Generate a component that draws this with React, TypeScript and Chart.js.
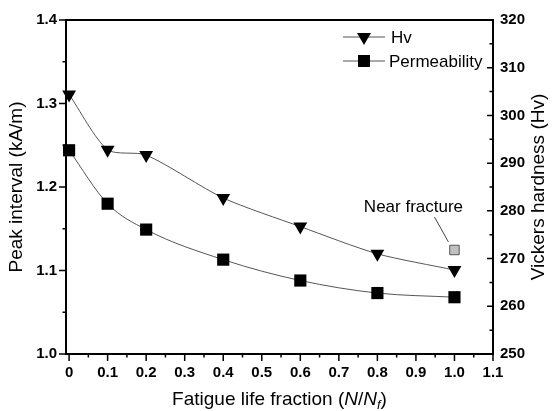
import React, { useEffect, useRef } from 'react';
import { Chart, registerables } from 'chart.js';

Chart.register(...registerables);

// ---- data ----
const fractions = [0, 0.1, 0.2, 0.4, 0.6, 0.8, 1.0];
const hardness = [304.4, 292.8, 291.7, 282.7, 276.7, 271.0, 267.6];
const peakInterval = [1.244, 1.18, 1.149, 1.113, 1.088, 1.073, 1.068];
const nearFractureX = [1.0];
const nearFractureHv = [271.8];

const xTicks = [0, 0.1, 0.2, 0.3, 0.4, 0.5, 0.6, 0.7, 0.8, 0.9, 1.0, 1.1];
const xTickLabels = ['0', '0.1', '0.2', '0.3', '0.4', '0.5', '0.6', '0.7', '0.8', '0.9', '1.0', '1.1'];
const leftTicks = [1.0, 1.1, 1.2, 1.3, 1.4];
const leftTickLabels = ['1.0', '1.1', '1.2', '1.3', '1.4'];
const rightTicks = [250, 260, 270, 280, 290, 300, 310, 320];
const rightTickLabels = ['250', '260', '270', '280', '290', '300', '310', '320'];

const seriesNames = ['Hv', 'Permeability'];
const annotationText = 'Near fracture';
const xTitleParts = ['Fatigue life fraction (', 'N', '/', 'N', 'f', ')'];
const leftTitle = 'Peak interval (kA/m)';
const rightTitle = 'Vickers hardness (Hv)';

const FONT = "'Liberation Sans', Arial, Helvetica, sans-serif";

function drawMarker(ctx: CanvasRenderingContext2D, kind: string, x: number, y: number) {
  ctx.save();
  ctx.fillStyle = '#000';
  ctx.beginPath();
  if (kind === 'tri') {
    const r = 8;
    ctx.moveTo(x, y + r);
    ctx.lineTo(x - r * Math.sin(Math.PI / 3), y - r / 2);
    ctx.lineTo(x + r * Math.sin(Math.PI / 3), y - r / 2);
    ctx.closePath();
  } else {
    ctx.rect(x - 6, y - 6, 12, 12);
  }
  ctx.fill();
  ctx.restore();
}

const decorPlugin = {
  id: 'decor',
  afterDraw(chart: any) {
    const ctx: CanvasRenderingContext2D = chart.ctx;
    const { left, right, top, bottom } = chart.chartArea;
    const xs = chart.scales.x;
    const yl = chart.scales.y;
    const yr = chart.scales.y1;
    ctx.save();
    ctx.strokeStyle = '#000';
    // ticks
    ctx.lineWidth = 1.5;
    ctx.beginPath();
    leftTicks.forEach((v, i) => {
      const p = yl.getPixelForValue(v);
      ctx.moveTo(left, p); ctx.lineTo(left - 7, p);
      if (i < leftTicks.length - 1) {
        const m = yl.getPixelForValue((v + leftTicks[i + 1]) / 2);
        ctx.moveTo(left, m); ctx.lineTo(left - 3.5, m);
      }
    });
    xTicks.forEach((v, i) => {
      const p = xs.getPixelForValue(v);
      ctx.moveTo(p, bottom); ctx.lineTo(p, bottom + 7);
      if (i < xTicks.length - 1) {
        const m = xs.getPixelForValue((v + xTicks[i + 1]) / 2);
        ctx.moveTo(m, bottom); ctx.lineTo(m, bottom + 3.5);
      }
    });
    rightTicks.forEach((v, i) => {
      const p = yr.getPixelForValue(v);
      ctx.moveTo(right, p); ctx.lineTo(right - 6, p);
      if (i < rightTicks.length - 1) {
        const m = yr.getPixelForValue((v + rightTicks[i + 1]) / 2);
        ctx.moveTo(right, m); ctx.lineTo(right - 3.5, m);
      }
    });
    ctx.stroke();
    // frame
    ctx.lineWidth = 2;
    ctx.strokeRect(left, top, right - left, bottom - top);

    // titles
    ctx.fillStyle = '#000';
    ctx.textAlign = 'center';
    ctx.textBaseline = 'middle';
    ctx.font = `19px ${FONT}`;
    const midY = (top + bottom) / 2;
    ctx.save();
    ctx.translate(17, midY);
    ctx.rotate(-Math.PI / 2);
    ctx.fillText(leftTitle, 0, 0);
    ctx.restore();
    ctx.save();
    ctx.translate(539, midY);
    ctx.rotate(-Math.PI / 2);
    ctx.fillText(rightTitle, 0, 0);
    ctx.restore();

    // x title with italic parts
    const styles = [
      { f: `19px ${FONT}`, dy: 0 },
      { f: `italic 19px ${FONT}`, dy: 0 },
      { f: `19px ${FONT}`, dy: 0 },
      { f: `italic 19px ${FONT}`, dy: 0 },
      { f: `italic 13px ${FONT}`, dy: 4 },
      { f: `19px ${FONT}`, dy: 0 },
    ];
    let total = 0;
    const widths = xTitleParts.map((t, i) => {
      ctx.font = styles[i].f;
      const w = ctx.measureText(t).width;
      total += w;
      return w;
    });
    let cx = (left + right) / 2 - total / 2;
    ctx.textAlign = 'left';
    ctx.textBaseline = 'alphabetic';
    const base = 405;
    xTitleParts.forEach((t, i) => {
      ctx.font = styles[i].f;
      ctx.fillText(t, cx, base + styles[i].dy);
      cx += widths[i];
    });

    // legend
    const rows = [
      { y: top + 17, kind: 'tri', name: seriesNames[0], tx: right - 102 },
      { y: top + 41, kind: 'sq', name: seriesNames[1], tx: right - 104 },
    ];
    ctx.font = `17px ${FONT}`;
    ctx.textBaseline = 'middle';
    rows.forEach((r) => {
      ctx.strokeStyle = '#555';
      ctx.lineWidth = 1;
      ctx.beginPath();
      ctx.moveTo(right - 150, r.y);
      ctx.lineTo(right - 108, r.y);
      ctx.stroke();
      drawMarker(ctx, r.kind, right - 129, r.y);
      ctx.fillStyle = '#000';
      ctx.fillText(r.name, r.tx, r.y + 1);
    });

    // annotation
    const meta = chart.getDatasetMeta(2);
    const pt = meta.data[0];
    if (pt) {
      const px = pt.x, py = pt.y;
      ctx.strokeStyle = '#444';
      ctx.lineWidth = 1;
      ctx.beginPath();
      ctx.moveTo(px - 20, py - 33);
      ctx.lineTo(px - 6, py - 8);
      ctx.stroke();
      ctx.textAlign = 'center';
      ctx.textBaseline = 'middle';
      ctx.font = `17px ${FONT}`;
      ctx.fillStyle = '#000';
      ctx.fillText(annotationText, px - 41, py - 43);
    }
    ctx.restore();
  },
};

export default function App() {
  const ref = useRef<HTMLCanvasElement | null>(null);
  useEffect(() => {
    if (!ref.current) return;
    const tickFont = { family: FONT, size: 15, weight: 'bold' as const };
    const chart = new Chart(ref.current, {
      type: 'line',
      data: {
        datasets: [
          {
            label: seriesNames[0],
            data: fractions.map((x, i) => ({ x, y: hardness[i] })),
            yAxisID: 'y1',
            borderColor: '#555',
            borderWidth: 1,
            backgroundColor: '#000',
            pointBackgroundColor: '#000',
            pointBorderColor: '#000',
            pointBorderWidth: 0,
            pointStyle: 'triangle',
            rotation: 180,
            pointRadius: 8,
            tension: 0.25,
            clip: false,
          } as any,
          {
            label: seriesNames[1],
            data: fractions.map((x, i) => ({ x, y: peakInterval[i] })),
            yAxisID: 'y',
            borderColor: '#555',
            borderWidth: 1,
            backgroundColor: '#000',
            pointBackgroundColor: '#000',
            pointBorderColor: '#000',
            pointBorderWidth: 0,
            pointStyle: 'rect',
            pointRadius: 8.6,
            cubicInterpolationMode: 'monotone',
            clip: false,
          } as any,
          {
            label: annotationText,
            data: nearFractureX.map((x, i) => ({ x, y: nearFractureHv[i] })),
            yAxisID: 'y1',
            showLine: false,
            pointBackgroundColor: '#c0c0c0',
            pointBorderColor: '#555',
            pointBorderWidth: 1,
            pointStyle: 'rect',
            pointRadius: 6.7,
            clip: false,
          } as any,
        ],
      },
      options: {
        animation: false,
        responsive: false,
        events: [],
        layout: { padding: { top: 20, left: 0, right: 0, bottom: 0 } },
        plugins: { legend: { display: false }, tooltip: { enabled: false } },
        scales: {
          x: {
            type: 'linear',
            min: -0.008,
            max: 1.1,
            grid: { display: false, drawTicks: false },
            border: { display: false },
            afterBuildTicks: (s: any) => { s.ticks = xTicks.map((v) => ({ value: v })); },
            afterFit: (s: any) => { s.height = 57; },
            ticks: {
              font: tickFont,
              color: '#000',
              padding: 10,
              maxRotation: 0,
              autoSkip: false,
              callback: (v: any) => { const i = xTicks.findIndex((t) => Math.abs(t - v) < 1e-6); return i >= 0 ? xTickLabels[i] : ''; },
            },
          },
          y: {
            type: 'linear',
            position: 'left',
            min: 1.0,
            max: 1.4,
            grid: { display: false, drawTicks: false },
            border: { display: false },
            afterBuildTicks: (s: any) => { s.ticks = leftTicks.map((v) => ({ value: v })); },
            afterFit: (s: any) => { s.width = 66; },
            ticks: {
              font: tickFont,
              color: '#000',
              padding: 9,
              autoSkip: false,
              callback: (v: any) => { const i = leftTicks.findIndex((t) => Math.abs(t - v) < 1e-6); return i >= 0 ? leftTickLabels[i] : ''; },
            },
          },
          y1: {
            type: 'linear',
            position: 'right',
            min: 250,
            max: 320,
            grid: { display: false, drawTicks: false },
            border: { display: false },
            afterBuildTicks: (s: any) => { s.ticks = rightTicks.map((v) => ({ value: v })); },
            afterFit: (s: any) => { s.width = 62; },
            ticks: {
              font: tickFont,
              color: '#000',
              padding: 7,
              autoSkip: false,
              callback: (v: any) => { const i = rightTicks.findIndex((t) => Math.abs(t - v) < 1e-6); return i >= 0 ? rightTickLabels[i] : ''; },
            },
          },
        },
      } as any,
      plugins: [decorPlugin],
    });
    return () => chart.destroy();
  }, []);
  return (
    <div style={{ position: 'fixed', left: 0, top: 0, width: 555, height: 411, background: '#fff' }}>
      <canvas ref={ref} width={555} height={411} style={{ width: 555, height: 411, display: 'block' }} />
    </div>
  );
}
